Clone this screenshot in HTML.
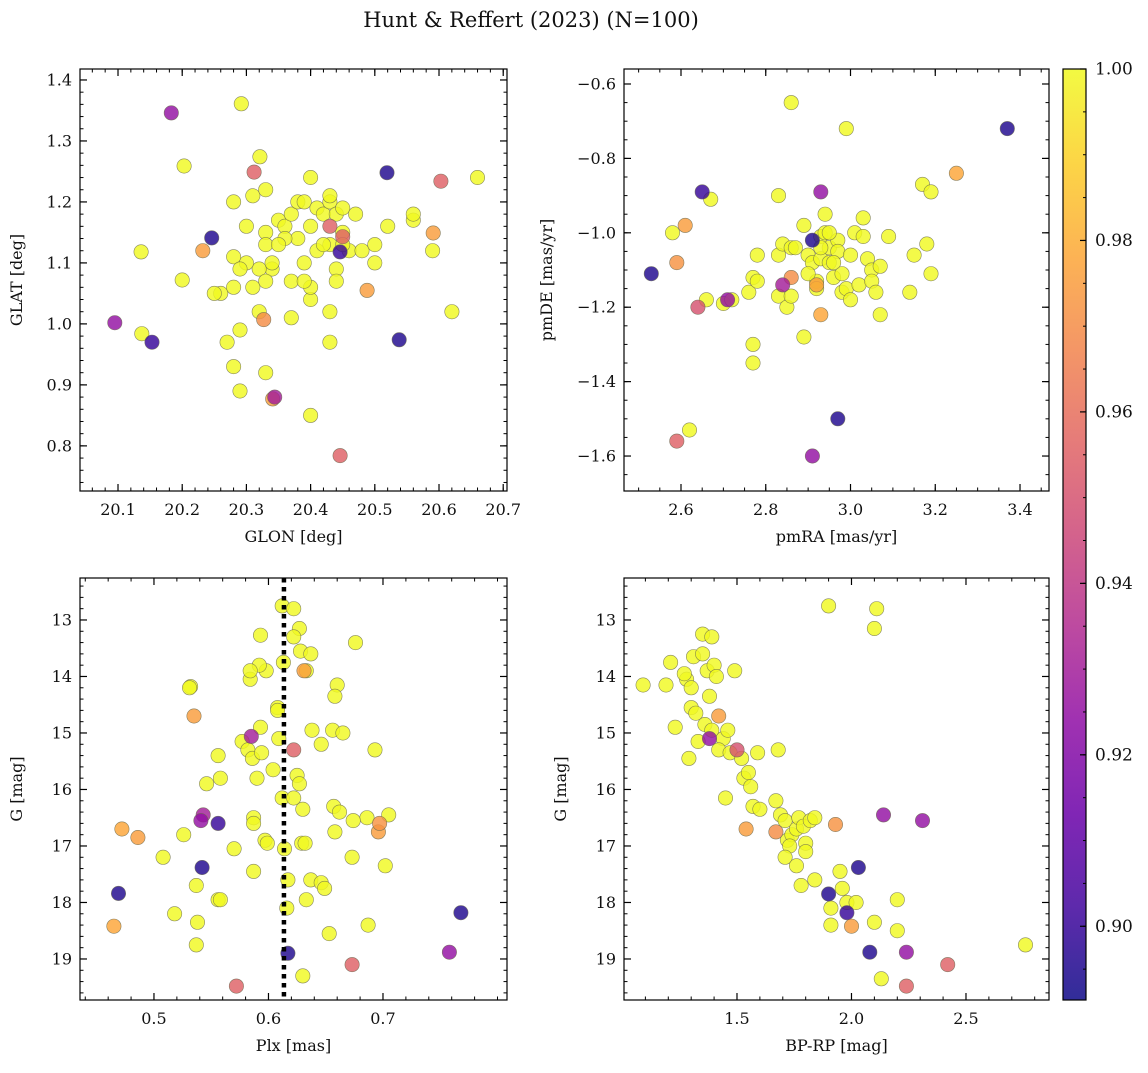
<!DOCTYPE html>
<html><head><meta charset="utf-8">
<style>
html,body{margin:0;padding:0;background:#fff;}
svg text{font-family:"DejaVu Serif","Liberation Serif",serif;fill:#111;}
</style></head>
<body>
<svg id="chart" width="1148" height="1068" viewBox="0 0 1148 1068" xmlns="http://www.w3.org/2000/svg">
<defs>
<linearGradient id="plasma" x1="0" y1="1" x2="0" y2="0"></linearGradient>
</defs>
<text x="531" y="27" font-size="21" text-anchor="middle">Hunt &amp; Reffert (2023) (N=100)</text>
</svg>
<script>
// ---- data ----
const p1Glon = [20.183,20.246,20.232,20.095,20.153,20.312,20.327,20.344,20.341,20.519,20.603,20.591,20.446,20.538,20.488,20.446,20.45,20.43,
20.292,20.203,20.136,20.2,20.137,20.321,20.31,20.33,20.28,20.30,20.33,20.33,20.35,20.36,20.37,20.38,20.39,20.40,20.38,20.41,20.42,20.43,20.44,20.43,20.45,20.47,20.45,20.43,20.41,20.40,20.39,20.37,20.34,20.32,20.33,20.31,20.30,20.28,20.29,20.26,20.25,20.28,20.27,20.28,20.29,20.32,20.33,20.29,20.37,20.40,20.40,20.43,20.43,20.40,20.44,20.44,20.46,20.48,20.50,20.50,20.52,20.56,20.56,20.59,20.62,20.66,20.45,20.42,20.36,20.34,20.35,20.39];
const p1Glat = [1.346,1.141,1.120,1.002,0.970,1.249,1.007,0.880,0.877,1.248,1.234,1.149,0.784,0.974,1.055,1.118,1.143,1.16,
1.361,1.259,1.118,1.072,0.984,1.274,1.21,1.22,1.20,1.16,1.15,1.13,1.17,1.16,1.18,1.20,1.20,1.24,1.14,1.19,1.18,1.20,1.18,1.21,1.19,1.18,1.15,1.13,1.12,1.16,1.10,1.07,1.09,1.09,1.07,1.06,1.10,1.11,1.09,1.05,1.05,1.06,0.97,0.93,0.99,1.02,0.92,0.89,1.01,1.04,1.06,1.02,0.97,0.85,1.09,1.07,1.12,1.12,1.13,1.10,1.16,1.17,1.18,1.12,1.02,1.24,1.13,1.13,1.14,1.10,1.13,1.07];
const p1Prob = [0.925,0.895,0.975,0.925,0.90,0.955,0.97,0.93,0.975,0.895,0.955,0.975,0.955,0.895,0.975,0.90,0.955,0.955];

const p2PmRA = [2.53,2.61,2.59,2.59,2.64,2.65,2.71,2.84,2.86,2.91,2.93,2.93,2.97,2.91,3.37,3.25,2.92,
2.86,2.99,2.67,2.83,3.17,3.19,2.58,2.66,2.70,2.72,2.76,2.77,2.78,2.78,2.77,2.77,2.62,2.83,2.84,2.86,2.87,2.83,2.85,2.86,2.89,2.90,2.91,2.92,2.92,2.93,2.93,2.94,2.94,2.95,2.95,2.96,2.97,2.97,2.98,2.98,2.99,3.00,3.00,3.01,3.02,3.03,3.03,3.04,3.05,3.05,3.06,3.07,3.07,3.09,3.14,3.15,3.18,3.19,2.89,2.95,2.93,2.90,2.96];
const p2PmDE = [-1.11,-0.98,-1.08,-1.56,-1.20,-0.89,-1.18,-1.14,-1.12,-1.02,-0.89,-1.22,-1.50,-1.60,-0.72,-0.84,-1.14,
-0.65,-0.72,-0.91,-0.90,-0.87,-0.89,-1.00,-1.18,-1.19,-1.18,-1.16,-1.12,-1.13,-1.06,-1.30,-1.35,-1.53,-1.06,-1.03,-1.04,-1.04,-1.17,-1.20,-1.17,-1.28,-1.06,-1.08,-1.13,-1.15,-1.07,-1.01,-0.95,-1.00,-1.04,-1.08,-1.12,-1.02,-1.05,-1.11,-1.16,-1.15,-1.06,-1.18,-1.00,-1.14,-0.96,-1.01,-1.07,-1.10,-1.13,-1.16,-1.22,-1.09,-1.01,-1.16,-1.06,-1.03,-1.11,-0.98,-1.00,-1.04,-1.11,-1.08];
const p2Prob = [0.895,0.975,0.972,0.955,0.95,0.90,0.925,0.93,0.97,0.895,0.925,0.978,0.895,0.925,0.895,0.978,0.975];

const p3Plx = [0.535,0.472,0.486,0.465,0.469,0.541,0.543,0.542,0.556,0.585,0.572,0.622,0.617,0.673,0.697,0.696,0.758,0.768,0.631,
0.612,0.622,0.627,0.622,0.628,0.637,0.633,0.613,0.593,0.598,0.592,0.584,0.584,0.532,0.531,0.660,0.658,0.676,0.608,0.608,0.593,0.638,0.656,0.665,0.646,0.693,0.577,0.582,0.586,0.594,0.609,0.604,0.556,0.558,0.546,0.590,0.625,0.627,0.612,0.622,0.630,0.657,0.662,0.686,0.705,0.674,0.658,0.587,0.587,0.597,0.599,0.629,0.632,0.614,0.570,0.526,0.508,0.673,0.702,0.587,0.637,0.617,0.646,0.649,0.537,0.556,0.558,0.538,0.518,0.616,0.633,0.687,0.653,0.537,0.630];
const p3G = [14.7,16.7,16.85,18.42,17.84,16.55,16.45,17.38,16.6,15.06,19.48,15.3,18.9,19.1,16.6,16.75,18.88,18.18,13.9,
12.75,12.8,13.15,13.3,13.55,13.6,13.9,13.75,13.27,13.9,13.8,14.05,13.9,14.18,14.2,14.15,14.35,13.4,14.55,14.6,14.9,14.95,14.95,15.0,15.2,15.3,15.15,15.3,15.45,15.35,15.1,15.65,15.4,15.8,15.9,15.8,15.75,15.9,16.15,16.15,16.35,16.3,16.4,16.5,16.45,16.55,16.75,16.5,16.6,16.9,16.95,16.95,16.95,17.05,17.05,16.8,17.2,17.2,17.35,17.45,17.6,17.6,17.65,17.75,17.7,17.95,17.95,18.35,18.2,18.1,17.95,18.4,18.55,18.75,19.3];
const p3Prob = [0.975,0.978,0.975,0.978,0.895,0.925,0.93,0.895,0.90,0.93,0.955,0.955,0.895,0.955,0.972,0.975,0.925,0.895,0.975];
const plxMean = 0.6135;

const p4Bprp = [1.42,1.38,1.50,1.54,1.67,1.93,2.14,2.31,1.90,2.03,1.98,2.00,2.08,2.24,2.42,2.24,
1.09,1.19,1.21,1.23,1.28,1.27,1.30,1.30,1.32,1.33,1.29,1.31,1.35,1.35,1.37,1.39,1.40,1.38,1.41,1.36,1.39,1.44,1.42,1.46,1.47,1.49,1.52,1.53,1.55,1.56,1.45,1.57,1.60,1.59,1.68,1.67,1.69,1.71,1.72,1.74,1.73,1.76,1.77,1.79,1.80,1.82,1.84,1.80,1.78,1.71,1.76,1.84,1.91,1.95,1.96,1.98,2.02,1.91,2.10,2.13,2.20,2.20,1.90,2.11,2.10,2.76];
const p4G = [14.7,15.1,15.3,16.7,16.75,16.62,16.45,16.55,17.85,17.38,18.18,18.42,18.88,18.88,19.1,19.48,
14.15,14.15,13.75,14.9,14.05,13.95,14.2,14.55,14.65,15.15,15.45,13.65,13.25,13.6,13.9,13.3,13.8,14.35,14.0,14.85,14.95,15.1,15.3,14.95,15.35,13.9,15.45,15.8,15.7,15.95,16.15,16.3,16.35,15.35,15.3,16.2,16.45,16.55,16.9,16.8,17.0,16.7,16.5,16.65,16.95,16.55,16.5,17.1,17.7,17.2,17.35,17.6,18.1,17.45,17.75,18.0,18.0,18.4,18.35,19.35,17.95,18.5,12.75,12.8,13.15,18.75];
const p4Prob = [0.975,0.925,0.95,0.975,0.97,0.972,0.925,0.925,0.895,0.895,0.90,0.975,0.895,0.925,0.955,0.955];

const cbTicks = [0.90,0.92,0.94,0.96,0.98,1.00];
const cbMin = 0.8914, cbMax = 1.0;

// ---- helpers ----
const NS = "http://www.w3.org/2000/svg";
const svg = document.getElementById('chart');
function mk(tag, attrs, parent) {
  const e = document.createElementNS(NS, tag);
  for (const k in attrs) e.setAttribute(k, attrs[k]);
  (parent || svg).appendChild(e);
  return e;
}
const stops = [[0,'#0d0887'],[0.1,'#41049d'],[0.2,'#6a00a8'],[0.3,'#8f0da4'],[0.4,'#b12a90'],[0.5,'#cc4778'],[0.6,'#e16462'],[0.7,'#f2844b'],[0.8,'#fca636'],[0.9,'#fcce25'],[1,'#f0f921']];
function hex(h){return [parseInt(h.slice(1,3),16),parseInt(h.slice(3,5),16),parseInt(h.slice(5,7),16)];}
function plasma(t){
  t=Math.max(0,Math.min(1,t));
  for(let i=0;i<stops.length-1;i++){
    if(t<=stops[i+1][0]){
      const a=hex(stops[i][1]),b=hex(stops[i+1][1]);const f=(t-stops[i][0])/(stops[i+1][0]-stops[i][0]);
      return 'rgb('+a.map((v,j)=>Math.round(v+(b[j]-v)*f)).join(',')+')';
    }
  }
  return stops[stops.length-1][1];
}
function probColor(p){return plasma((p-cbMin)/(cbMax-cbMin));}

function fmt(v,d){return (v<0?'\u2212':'')+Math.abs(v).toFixed(d);}

function panel(cfg){
  const g = mk('g',{});
  
  
  const {x0,y0,x1,y1} = cfg.box;
  const sx = v => x0 + (v-cfg.xd[0])/(cfg.xd[1]-cfg.xd[0])*(x1-x0);
  const sy = v => y0 + (v-cfg.yd[0])/(cfg.yd[1]-cfg.yd[0])*(y1-y0);
  const n = cfg.xs.length;
  const order = [];
  for (let i=0;i<n;i++) order.push(i);
  order.sort((a,b)=>((a<cfg.pr.length?cfg.pr[a]:1) > (b<cfg.pr.length?cfg.pr[b]:1) ? -1 : 1));
  const clip = 'clip-'+cfg.name;
  const cp = mk('clipPath',{id:clip},g); mk('rect',{x:x0,y:y0,width:x1-x0,height:y1-y0},cp);
  const pg = mk('g',{'clip-path':'url(#'+clip+')'},g);
  for (const i of order) {
    const p = i<cfg.pr.length?cfg.pr[i]:1.0;
    const c = mk('circle',{cx:sx(cfg.xs[i]).toFixed(1),cy:sy(cfg.ys[i]).toFixed(1),r:7.2,fill:probColor(p),'fill-opacity':0.82,stroke:'#6a6a50','stroke-width':0.6,'stroke-opacity':0.8},pg);
    
    
  }
  if (cfg.vline !== undefined) {
    const l = mk('line',{x1:sx(cfg.vline),x2:sx(cfg.vline),y1:y0,y2:y1,stroke:'#000','stroke-width':4.5,'stroke-dasharray':'4.5,4.5'},g);
    
    
  }
  const fr = mk('rect',{x:x0,y:y0,width:x1-x0,height:y1-y0,fill:'none',stroke:'#000','stroke-width':1.2},g);
  
  
  const eps=1e-9;
  const xlo=Math.min(...cfg.xd),xhi=Math.max(...cfg.xd),ylo=Math.min(...cfg.yd),yhi=Math.max(...cfg.yd);
  for (let v=Math.ceil(xlo/cfg.xminor-eps)*cfg.xminor; v<=xhi+eps; v+=cfg.xminor){
    const X=sx(v);
    mk('line',{x1:X,x2:X,y1:y1,y2:y1-3.5,stroke:'#000','stroke-width':1},g);
    mk('line',{x1:X,x2:X,y1:y0,y2:y0+3.5,stroke:'#000','stroke-width':1},g);
  }
  for (let v=Math.ceil(ylo/cfg.yminor-eps)*cfg.yminor; v<=yhi+eps; v+=cfg.yminor){
    const Y=sy(v);
    mk('line',{x1:x0,x2:x0+3.5,y1:Y,y2:Y,stroke:'#000','stroke-width':1},g);
    mk('line',{x1:x1,x2:x1-3.5,y1:Y,y2:Y,stroke:'#000','stroke-width':1},g);
  }
  for (const v of cfg.xticks){
    const X=sx(v);
    mk('line',{x1:X,x2:X,y1:y1,y2:y1-7,stroke:'#000','stroke-width':1.2},g);
    mk('line',{x1:X,x2:X,y1:y0,y2:y0+7,stroke:'#000','stroke-width':1.2},g);
    const t=mk('text',{x:X,y:y1+24,'font-size':16,'text-anchor':'middle'},g);
    t.textContent=fmt(v,cfg.xdec);
    
    
  }
  for (const v of cfg.yticks){
    const Y=sy(v);
    mk('line',{x1:x0,x2:x0+7,y1:Y,y2:Y,stroke:'#000','stroke-width':1.2},g);
    mk('line',{x1:x1,x2:x1-7,y1:Y,y2:Y,stroke:'#000','stroke-width':1.2},g);
    const t=mk('text',{x:x0-8,y:Y+5.5,'font-size':16,'text-anchor':'end'},g);
    t.textContent=fmt(v,cfg.ydec);
    
    
  }
  const xl=mk('text',{x:(x0+x1)/2,y:y1+51,'font-size':16,'text-anchor':'middle'},g);
  xl.textContent=cfg.xlabel;
  
  
  const yl=mk('text',{x:0,y:0,'font-size':16,'text-anchor':'middle',transform:'translate('+(cfg.ylx)+','+((y0+y1)/2)+') rotate(-90)'},g);
  yl.textContent=cfg.ylabel;
  
  
}

panel({name:'glon-glat-panel',box:{x0:80,y0:69,x1:507,y1:491},xd:[20.0408,20.7059],yd:[1.418,0.726],
  xs:p1Glon,ys:p1Glat,pr:p1Prob,xticks:[20.1,20.2,20.3,20.4,20.5,20.6,20.7],yticks:[0.8,0.9,1.0,1.1,1.2,1.3,1.4],
  xminor:0.02,yminor:0.02,xdec:1,ydec:1,xlabel:'GLON [deg]',ylabel:'GLAT [deg]',ylx:22});
panel({name:'proper-motion-panel',box:{x0:624,y0:69,x1:1049,y1:491},xd:[2.4655,3.4684],yd:[-0.5597,-1.694],
  xs:p2PmRA,ys:p2PmDE,pr:p2Prob,xticks:[2.6,2.8,3.0,3.2,3.4],yticks:[-1.6,-1.4,-1.2,-1.0,-0.8,-0.6],
  xminor:0.05,yminor:0.05,xdec:1,ydec:1,xlabel:'pmRA [mas/yr]',ylabel:'pmDE [mas/yr]',ylx:552});
panel({name:'parallax-magnitude-panel',box:{x0:80,y0:578,x1:507,y1:1000},xd:[0.4354,0.8083],yd:[12.257,19.726],
  xs:p3Plx,ys:p3G,pr:p3Prob,xticks:[0.5,0.6,0.7],yticks:[13,14,15,16,17,18,19],vline:plxMean,
  xminor:0.02,yminor:0.2,xdec:1,ydec:0,xlabel:'Plx [mas]',ylabel:'G [mag]',ylx:22});
panel({name:'color-magnitude-panel',box:{x0:624,y0:578,x1:1049,y1:1000},xd:[1.0066,2.8625],yd:[12.257,19.726],
  xs:p4Bprp,ys:p4G,pr:p4Prob,xticks:[1.5,2.0,2.5],yticks:[13,14,15,16,17,18,19],
  xminor:0.1,yminor:0.2,xdec:1,ydec:0,xlabel:'BP-RP [mag]',ylabel:'G [mag]',ylx:566});

// colorbar
const grad = document.getElementById('plasma');
for (const s of stops) mk('stop',{offset:s[0],'stop-color':s[1],'stop-opacity':0.85},grad);
const cb = mk('g',{});


const cbx0=1063,cbx1=1086,cby0=69,cby1=1000;
mk('rect',{x:cbx0,y:cby0,width:cbx1-cbx0,height:cby1-cby0,fill:'url(#plasma)',stroke:'#000','stroke-width':1.2},cb);
const cy = v => cby1 - (v-cbMin)/(cbMax-cbMin)*(cby1-cby0);
for (let v=0.895; v<=1.0001; v+=0.005){
  mk('line',{x1:cbx1,x2:cbx1-3,y1:cy(v),y2:cy(v),stroke:'#000','stroke-width':1},cb);
}
for (const v of cbTicks){
  mk('line',{x1:cbx1,x2:cbx1-6,y1:cy(v),y2:cy(v),stroke:'#000','stroke-width':1.2},cb);
  const t=mk('text',{x:cbx1+9,y:cy(v)+5.5,'font-size':17},cb);
  t.textContent=v.toFixed(2);
  
  
}
</script>
</body></html>
